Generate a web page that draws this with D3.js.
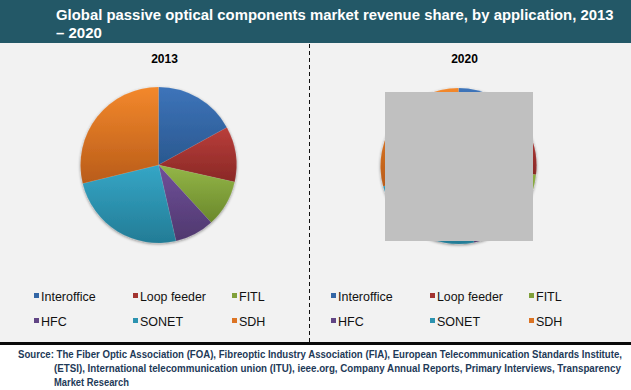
<!DOCTYPE html>
<html>
<head>
<meta charset="utf-8">
<script src="https://cdn.jsdelivr.net/npm/d3@7"></script>
<style>
  body { margin: 0; background: #fff; }
  svg { display: block; font-family: "Liberation Sans", Arial, sans-serif; }
</style>
</head>
<body>
<div id="chart"></div>
<script>
const width = 631;
const height = 390;

// data
const categories = ["Interoffice", "Loop feeder", "FITL", "HFC", "SONET", "SDH"];
const years = ["2013", "2020"];
const share2013 = [17.0, 11.5, 9.7, 8.2, 24.8, 28.8];
const share2020 = [15.2, 11.6, 11.0, 9.0, 24.0, 29.2];
const titleLines = ["Global passive optical components market revenue share, by application, 2013", "\u2013 2020"];
const sourceLines = [
  "Source: The Fiber Optic Association (FOA), Fibreoptic Industry Association (FIA), European Telecommunication Standards Institute,",
  "(ETSI), International telecommunication union (ITU), ieee.org, Company Annual Reports, Primary Interviews, Transparency",
  "Market Research"
];

const lightColors = ["#3d74ba", "#ba3e3a", "#94b648", "#70509a", "#35a6c6", "#f3882c"];
const darkColors  = ["#2a588f", "#892826", "#6a882b", "#4f386e", "#237c96", "#b95c19"];
const midColors   = ["#3366a6", "#a33431", "#80a03a", "#614585", "#2c93b0", "#dc7424"];

const svg = d3.select("#chart")
  .append("svg")
  .attr("width", width)
  .attr("height", height);

const defs = svg.append("defs");

// gradients per slice
categories.forEach((c, i) => {
  const g = defs.append("linearGradient")
    .attr("id", "grad" + i)
    .attr("x1", 0).attr("y1", 0).attr("x2", 0).attr("y2", 1);
  g.append("stop").attr("offset", "0%").attr("stop-color", lightColors[i]);
  g.append("stop").attr("offset", "100%").attr("stop-color", darkColors[i]);
});

const shadow = defs.append("filter")
  .attr("id", "shadow")
  .attr("x", "-20%").attr("y", "-20%").attr("width", "140%").attr("height", "140%");
shadow.append("feGaussianBlur").attr("in", "SourceAlpha").attr("stdDeviation", 1.6).attr("result", "blur");
shadow.append("feOffset").attr("in", "blur").attr("dx", 0).attr("dy", 1).attr("result", "off");
shadow.append("feComponentTransfer").attr("in", "off").attr("result", "soft")
  .append("feFuncA").attr("type", "linear").attr("slope", 0.45);
const merge = shadow.append("feMerge");
merge.append("feMergeNode").attr("in", "soft");
merge.append("feMergeNode").attr("in", "SourceGraphic");

// background panels
svg.append("rect").attr("x", 0).attr("y", 0).attr("width", width).attr("height", 343).attr("fill", "#f2f2f2");
svg.append("rect").attr("x", 0).attr("y", 0).attr("width", width).attr("height", 43).attr("fill", "#235867");

// squeeze a text horizontally to a target width
function fitWidth(sel, x, y, target) {
  sel.each(function (d, i) {
    const t = d3.select(this);
    const w = this.getComputedTextLength();
    const tw = typeof target === "function" ? target(d, i) : target;
    const sx = tw && w > 0 ? tw / w : 1;
    t.attr("transform", `translate(${x(d, i)},${y(d, i)}) scale(${sx},1)`);
  });
}

// title
const title = svg.append("g").selectAll("text")
  .data(titleLines)
  .enter()
  .append("text")
  .attr("fill", "#fff")
  .attr("font-weight", "bold")
  .attr("font-size", 15)
  .text(d => d);
fitWidth(title, () => 56, (d, i) => 20 + i * 18, (d, i) => i === 0 ? 558 : null);

// divider
svg.append("line")
  .attr("x1", 309.5).attr("x2", 309.5)
  .attr("y1", 44).attr("y2", 342)
  .attr("stroke", "#111")
  .attr("stroke-width", 1)
  .attr("stroke-dasharray", "4,3");

// bottom rule
svg.append("rect").attr("x", 0).attr("y", 342).attr("width", width).attr("height", 3).attr("fill", "#0a0a0a");

// pies
const pie = d3.pie().sort(null).value(d => d);
const arc = d3.arc().innerRadius(0).outerRadius(78);
const centers = [[158.5, 165], [458.5, 166]];
const series = [share2013, share2020];

series.forEach((vals, k) => {
  const g = svg.append("g")
    .attr("transform", `translate(${centers[k][0]},${centers[k][1]})`)
    .attr("filter", "url(#shadow)");
  g.selectAll("path")
    .data(pie(vals))
    .enter()
    .append("path")
    .attr("d", arc)
    .attr("fill", (d, i) => `url(#grad${i})`)
    .attr("stroke", "rgba(255,255,255,0.15)")
    .attr("stroke-width", 0.5);

  svg.append("text")
    .attr("x", centers[k][0] + 6)
    .attr("y", 63)
    .attr("text-anchor", "middle")
    .attr("font-weight", "bold")
    .attr("font-size", 12)
    .attr("fill", "#000")
    .text(years[k]);
});

// grey box over the 2020 pie
svg.append("rect")
  .attr("x", 385).attr("y", 92)
  .attr("width", 148).attr("height", 149)
  .attr("fill", "#c0c0c0");

// legends
const colX = d3.scalePoint().domain([0, 1, 2]).range([0, 198]);
const legendLeft = [34, 331];
legendLeft.forEach(lx => {
  const lg = svg.append("g").attr("transform", `translate(${lx},0)`);
  const items = lg.selectAll("g")
    .data(categories)
    .enter()
    .append("g")
    .attr("transform", (d, i) => `translate(${colX(i % 3)},${i < 3 ? 296 : 321})`);
  items.append("rect")
    .attr("x", 0).attr("y", -3)
    .attr("width", 5).attr("height", 5)
    .attr("fill", (d, i) => midColors[i]);
  const lt = items.append("text")
    .attr("font-size", 12.5)
    .attr("fill", "#111")
    .text(d => d);
  fitWidth(lt, () => 7, () => 4.5, d => d === "Loop feeder" ? 66 : null);
});

// source note
const sourceLen = [605, 568, 75];
const src = svg.append("g").selectAll("text")
  .data(sourceLines)
  .enter()
  .append("text")
  .attr("font-size", 10.5)
  .attr("font-weight", "bold")
  .attr("fill", "#1e3a58")
  .text(d => d);
fitWidth(src, (d, i) => i === 0 ? 18 : 54, (d, i) => 358 + i * 14, (d, i) => sourceLen[i]);
</script>
</body>
</html>
